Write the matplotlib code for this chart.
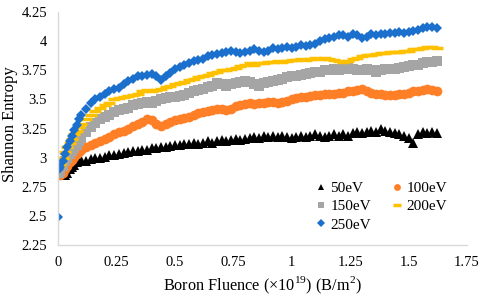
import numpy as np
import matplotlib
matplotlib.use("Agg")
import matplotlib.pyplot as plt

plt.rcParams['font.family'] = ['Liberation Serif', 'DejaVu Serif']
plt.rcParams['mathtext.fontset'] = 'custom'
plt.rcParams['mathtext.rm'] = 'Liberation Serif'

nan = float('nan')

fluence = [0.0, 0.005, 0.01, 0.02, 0.03, 0.04, 0.05, 0.06, 0.07, 0.08, 0.09, 0.10,
           0.12, 0.14, 0.16, 0.18, 0.20, 0.22, 0.24, 0.26, 0.28, 0.30, 0.32, 0.34,
           0.36, 0.38, 0.40, 0.42, 0.44, 0.46, 0.48, 0.50, 0.52, 0.54, 0.56, 0.58,
           0.60, 0.62, 0.64, 0.66, 0.68, 0.70, 0.72, 0.74, 0.76, 0.78, 0.80, 0.82,
           0.84, 0.86, 0.88, 0.90, 0.92, 0.94, 0.96, 0.98, 1.00, 1.02, 1.04, 1.06,
           1.08, 1.10, 1.12, 1.14, 1.16, 1.18, 1.20, 1.22, 1.24, 1.26, 1.28, 1.30,
           1.32, 1.34, 1.36, 1.38, 1.40, 1.42, 1.44, 1.46, 1.48, 1.50, 1.52, 1.54,
           1.56, 1.58, 1.60, 1.62]

e50 = [nan, nan, nan, nan, 2.85, 2.87, 2.90, 2.92, 2.94, 2.96, 2.97, 2.98,
       2.97, 2.99, 3.00, 3.00, 3.01, 3.02, 3.02, 3.03, 3.04, 3.05, 3.06, 3.06,
       3.07, 3.07, 3.08, 3.08, 3.09, 3.09, 3.10, 3.11, 3.11, 3.12, 3.12, 3.13,
       3.12, 3.13, 3.14, 3.13, 3.14, 3.15, 3.14, 3.15, 3.16, 3.15, 3.16, 3.17,
       3.18, 3.17, 3.19, 3.18, 3.19, 3.18, 3.19, 3.18, 3.17, 3.18, 3.19, 3.18,
       3.19, 3.20, 3.19, 3.18, 3.19, 3.20, 3.19, 3.20, 3.19, 3.21, 3.22, 3.21,
       3.22, 3.23, 3.22, 3.25, 3.23, 3.22, 3.21, 3.20, 3.19, 3.17, 3.13, 3.20,
       3.22, 3.21, 3.22, 3.21]

e100 = [nan, 2.86, 2.85, 2.87, 2.90, 2.93, 2.96, 2.98, 3.01, 3.03, 3.05, 3.07,
        3.09, 3.11, 3.13, 3.14, 3.16, 3.18, 3.20, 3.22, 3.23, 3.25, 3.27, 3.29,
        3.31, 3.33, 3.32, 3.29, 3.27, 3.29, 3.31, 3.32, 3.33, 3.34, 3.35, 3.37,
        3.38, 3.39, 3.40, 3.41, 3.42, 3.42, 3.41, 3.42, 3.44, 3.45, 3.46, 3.47,
        3.46, 3.47, 3.47, 3.48, 3.48, 3.47, 3.48, 3.49, 3.50, 3.51, 3.52, 3.52,
        3.53, 3.54, 3.54, 3.55, 3.55, 3.55, 3.56, 3.56, 3.57, 3.57, 3.58, 3.59,
        3.57, 3.56, 3.55, 3.55, 3.54, 3.54, 3.54, 3.55, 3.55, 3.56, 3.57, 3.57,
        3.58, 3.59, 3.58, 3.57]

e150 = [nan, 2.87, 2.89, 2.93, 2.97, 3.00, 3.03, 3.06, 3.08, 3.11, 3.14, 3.17,
        3.22, 3.26, 3.30, 3.33, 3.35, 3.37, 3.39, 3.41, 3.42, 3.43, 3.45, 3.46,
        3.47, 3.48, 3.47, 3.49, 3.50, 3.51, 3.52, 3.52, 3.53, 3.54, 3.56, 3.57,
        3.58, 3.59, 3.61, 3.62, 3.64, 3.63, 3.62, 3.63, 3.64, 3.65, 3.66, 3.65,
        3.63, 3.62, 3.64, 3.65, 3.66, 3.67, 3.68, 3.69, 3.70, 3.70, 3.71, 3.72,
        3.73, 3.74, 3.74, 3.75, 3.75, 3.76, 3.75, 3.76, 3.77, 3.76, 3.75, 3.75,
        3.76, 3.75, 3.74, 3.75, 3.76, 3.76, 3.76, 3.77, 3.78, 3.79, 3.80, 3.80,
        3.81, 3.82, 3.82, 3.83]

e200 = [nan, 2.93, 2.95, 3.00, 3.05, 3.09, 3.13, 3.16, 3.20, 3.23, 3.26, 3.29,
        3.33, 3.37, 3.40, 3.43, 3.45, 3.47, 3.50, 3.51, 3.52, 3.53, 3.54, 3.55,
        3.57, 3.58, 3.57, 3.58, 3.59, 3.61, 3.62, 3.63, 3.64, 3.65, 3.67, 3.68,
        3.69, 3.70, 3.71, 3.73, 3.74, 3.75, 3.75, 3.76, 3.77, 3.79, 3.80, 3.81,
        3.80, 3.81, 3.81, 3.82, 3.82, 3.83, 3.82, 3.83, 3.84, 3.84, 3.85, 3.84,
        3.85, 3.86, 3.85, 3.86, 3.85, 3.84, 3.83, 3.82, 3.83, 3.85, 3.86, 3.87,
        3.88, 3.88, 3.89, 3.90, 3.90, 3.91, 3.91, 3.91, 3.92, 3.92, 3.93, 3.93,
        3.94, 3.95, 3.95, 3.94]

e250 = [2.49, 2.90, 2.92, 2.97, 3.03, 3.09, 3.14, 3.19, 3.24, 3.28, 3.33, 3.37,
        3.42, 3.47, 3.50, 3.52, 3.55, 3.57, 3.59, 3.60, 3.63, 3.66, 3.68, 3.70,
        3.70, 3.71, 3.72, 3.70, 3.67, 3.70, 3.73, 3.76, 3.78, 3.80, 3.81, 3.83,
        3.84, 3.85, 3.87, 3.88, 3.89, 3.90, 3.91, 3.92, 3.91, 3.90, 3.91, 3.92,
        3.93, 3.92, 3.91, 3.92, 3.94, 3.93, 3.94, 3.95, 3.94, 3.95, 3.97, 3.96,
        3.97, 3.98, 4.00, 4.02, 4.03, 4.04, 4.05, 4.05, 4.04, 4.06, 4.05, 4.03,
        4.04, 4.06, 4.05, 4.06, 4.06, 4.07, 4.07, 4.08, 4.07, 4.08, 4.09, 4.10,
        4.11, 4.12, 4.12, 4.11]

labels = ['50eV', '100eV', '150eV', '200eV', '250eV']
series = [e50, e100, e150, e200, e250]
colors = ['#000000', '#ff7f27', '#a5a5a5', '#ffc000', '#1a70cc']
markers = ['^', 'o', 's', '_', 'D']
sizes = [6.5, 7, 7, 8, 5.5]

xticks = [0, 0.25, 0.5, 0.75, 1, 1.25, 1.5, 1.75]
xticklabels = ['0', '0.25', '0.5', '0.75', '1', '1.25', '1.5', '1.75']
yticks = [2.25, 2.5, 2.75, 3, 3.25, 3.5, 3.75, 4, 4.25]
yticklabels = ['2.25', '2.5', '2.75', '3', '3.25', '3.5', '3.75', '4', '4.25']

fig = plt.figure(figsize=(4.84, 2.96), dpi=100)
ax = fig.add_axes([0.12, 0.172, 0.845, 0.787])

handles = []
for vals, lab, c, m, s in zip(series, labels, colors, markers, sizes):
    if m == '_':
        h, = ax.plot(fluence, vals, linestyle='none', marker=m, markersize=s,
                     markeredgewidth=2.5, color=c, label=lab)
    else:
        h, = ax.plot(fluence, vals, linestyle='none', marker=m, markersize=s,
                     markeredgewidth=0, color=c, label=lab)
    handles.append(h)

ax.set_xlim(0, 1.75)
ax.set_ylim(2.25, 4.25)
ax.set_xticks(xticks)
ax.set_xticklabels(xticklabels)
ax.set_yticks(yticks)
ax.set_yticklabels(yticklabels)
ax.tick_params(length=0, labelsize=10.5, pad=8)
for sp in ['top', 'right']:
    ax.spines[sp].set_visible(False)
for sp in ['left', 'bottom']:
    ax.spines[sp].set_color('#d9d9d9')
    ax.spines[sp].set_linewidth(1)

ax.set_ylabel('Shannon Entropy', fontsize=12)
ax.yaxis.set_label_coords(-0.098, 0.52)
ax.set_xlabel('Boron Fluence (\u00d710$^{\\mathregular{19}}$) (B/m$^{\\mathregular{2}}$)',
              fontsize=11.7, labelpad=4)

order = [0, 2, 4, 1, 3]
leg = ax.legend([handles[i] for i in order], [labels[i] for i in order],
                ncol=2, loc='upper left', bbox_to_anchor=(0.61, 0.30),
                frameon=False, fontsize=11, handletextpad=0.1,
                columnspacing=1.2, labelspacing=0.3, markerscale=0.7,
                handlelength=1.0, borderaxespad=0)

fig.savefig('out.png', dpi=100)
